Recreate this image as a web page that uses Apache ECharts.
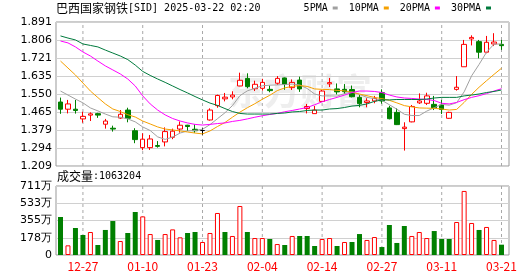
<!DOCTYPE html>
<html><head><meta charset="utf-8">
<script src="https://cdn.jsdelivr.net/npm/echarts@6/dist/echarts.min.js"></script>
<style>html,body{margin:0;padding:0;background:#fff}#c{width:530px;height:276px}</style>
</head><body><div id="c"></div>
<script>
const titleName = '巴西国家钢铁';
const titleInfo = '[SID] 2025-03-22 02:20';
const volumeTitle = '成交量';
const lastVolume = '1063204';
const watermarkText = '东方财富';

const dates = ['12-23','12-24','12-26','12-27','12-30','12-31','01-02','01-03','01-06','01-07','01-08','01-10','01-13','01-14','01-15','01-16','01-17','01-21','01-22','01-23','01-24','01-27','01-28','01-29','01-30','01-31','02-03','02-04','02-05','02-06','02-07','02-10','02-11','02-12','02-13','02-14','02-18','02-19','02-20','02-21','02-24','02-25','02-26','02-27','02-28','03-03','03-04','03-05','03-06','03-07','03-10','03-11','03-12','03-13','03-14','03-17','03-18','03-19','03-20','03-21'];
const axisDates = ['12-27','01-10','01-23','02-04','02-14','02-27','03-11','03-21'];

const opens  = [1.512,1.478,1.478,1.432,1.450,1.457,1.407,1.388,1.436,1.474,1.376,1.296,1.296,1.306,1.323,1.345,1.384,1.402,1.383,1.377,1.427,1.495,1.527,1.536,1.588,1.624,1.575,1.577,1.572,1.601,1.626,1.580,1.616,1.481,1.457,1.515,1.598,1.574,1.572,1.571,1.534,1.510,1.517,1.556,1.484,1.463,1.386,1.418,1.508,1.506,1.501,1.498,1.435,1.572,1.679,1.811,1.798,1.748,1.787,1.785];
const closes = [1.478,1.503,1.472,1.444,1.456,1.450,1.422,1.384,1.454,1.435,1.334,1.336,1.337,1.302,1.372,1.374,1.402,1.396,1.376,1.377,1.474,1.543,1.535,1.545,1.615,1.585,1.596,1.605,1.566,1.624,1.596,1.605,1.574,1.491,1.474,1.564,1.604,1.560,1.561,1.537,1.504,1.517,1.529,1.517,1.433,1.405,1.393,1.491,1.517,1.541,1.484,1.477,1.463,1.582,1.785,1.818,1.748,1.795,1.796,1.779];
const lows   = [1.456,1.458,1.457,1.414,1.422,1.437,1.386,1.372,1.432,1.416,1.317,1.284,1.285,1.296,1.302,1.336,1.367,1.375,1.366,1.356,1.424,1.485,1.515,1.525,1.587,1.577,1.564,1.566,1.558,1.593,1.570,1.569,1.560,1.458,1.457,1.512,1.583,1.548,1.550,1.534,1.487,1.487,1.506,1.504,1.430,1.403,1.282,1.416,1.503,1.498,1.474,1.455,1.433,1.566,1.679,1.780,1.719,1.743,1.777,1.759];
const highs  = [1.533,1.522,1.522,1.466,1.463,1.461,1.432,1.400,1.474,1.485,1.388,1.364,1.356,1.327,1.392,1.386,1.420,1.404,1.406,1.388,1.482,1.547,1.555,1.563,1.651,1.648,1.613,1.622,1.590,1.635,1.628,1.619,1.632,1.503,1.493,1.569,1.626,1.600,1.597,1.590,1.545,1.530,1.541,1.572,1.494,1.482,1.416,1.498,1.553,1.556,1.541,1.522,1.466,1.635,1.806,1.828,1.806,1.825,1.838,1.806];

// volume in 万 (10k shares)
const volumes = [391.6,99.6,278,206,237,103,258,350,144,227,443,398,216,155,216,264,182,227,237,134,227,433,237,196,505,237,175,175,165,113,103,196,196,196,93,165,175,93,134,134,216,155,185,82,309,124,299,196,237,175,247,165,165,340,660,330,258,289,155,106.32];
// 1 = up day (red hollow), 0 = down day (green)
const volumeUp = [0,1,0,0,1,0,0,0,1,0, 0,1,1,0,1,1,1,0,0,1, 1,1,0,1,1,0,1,1,0,1, 0,1,0,0,0,1,1,0,1,0, 0,1,1,0,0,0,0,1,1,1, 0,0,0,1,1,1,0,1,1,0];

const maNames = ['5PMA','10PMA','20PMA','30PMA'];
const ma5  = [1.564,1.545,1.526,1.508,1.484,1.470,1.455,1.442,1.440,1.432,1.418,1.394,1.377,1.347,1.335,1.346,1.365,1.375,1.377,1.383,1.405,1.433,1.461,1.495,1.542,1.565,1.577,1.589,1.592,1.593,1.595,1.597,1.593,1.576,1.550,1.541,1.541,1.540,1.552,1.560,1.548,1.534,1.528,1.520,1.499,1.478,1.454,1.448,1.448,1.469,1.485,1.501,1.497,1.509,1.560,1.636,1.690,1.748,1.786,1.787];
const ma10 = [1.706,1.673,1.640,1.602,1.564,1.533,1.503,1.479,1.467,1.452,1.441,1.422,1.408,1.394,1.384,1.380,1.375,1.370,1.365,1.361,1.375,1.396,1.415,1.440,1.464,1.485,1.504,1.525,1.544,1.566,1.579,1.586,1.590,1.586,1.574,1.572,1.571,1.567,1.565,1.558,1.550,1.542,1.534,1.528,1.520,1.508,1.495,1.489,1.484,1.483,1.482,1.479,1.474,1.477,1.510,1.548,1.582,1.613,1.643,1.672];
const ma20 = [1.801,1.792,1.773,1.749,1.730,1.706,1.683,1.664,1.645,1.621,1.588,1.541,1.503,1.474,1.451,1.434,1.422,1.413,1.406,1.403,1.406,1.410,1.413,1.420,1.425,1.432,1.440,1.447,1.453,1.458,1.466,1.472,1.479,1.486,1.499,1.513,1.524,1.534,1.545,1.557,1.564,1.564,1.562,1.557,1.545,1.536,1.531,1.529,1.526,1.524,1.519,1.506,1.503,1.510,1.523,1.534,1.542,1.552,1.564,1.575];
const ma30 = [1.825,1.815,1.806,1.787,1.780,1.773,1.758,1.744,1.730,1.713,1.687,1.657,1.638,1.621,1.605,1.588,1.571,1.555,1.538,1.522,1.507,1.496,1.481,1.467,1.458,1.455,1.455,1.455,1.455,1.458,1.460,1.465,1.467,1.472,1.474,1.474,1.479,1.481,1.486,1.493,1.496,1.503,1.515,1.522,1.522,1.524,1.524,1.524,1.524,1.526,1.531,1.534,1.534,1.534,1.541,1.545,1.550,1.557,1.562,1.569];
const maColors = ['#a0a0a0','#f5a000','#ff00ff','#007a3d'];

const priceMin = 1.209, priceMax = 1.891;
const priceTicks = ['1.209','1.294','1.379','1.465','1.550','1.635','1.721','1.806','1.891'];
const volumeMax = 711;
const volumeTicks = ['0','178万','355万','533万','711万'];

const labelSet = new Set(axisDates);
const candles = dates.map((d, i) => [opens[i], closes[i], lows[i], highs[i]]);
const volData = volumes.map((v, i) => ({
  value: v,
  itemStyle: volumeUp[i]
    ? { color: '#ffffff', borderColor: '#ff0000', borderWidth: 1 }
    : { color: '#008000', borderColor: '#008000', borderWidth: 0 }
}));
// vertical date guides: one separate dashed line series per labelled date
const guideSeries = (xi, yi, lo, hi) => axisDates.map(d => ({
  type: 'line', xAxisIndex: xi, yAxisIndex: yi, data: [[d, lo], [d, hi]],
  symbol: 'none', showSymbol: false, silent: true, z: 1,
  lineStyle: { width: 1, color: '#a8a8a8', type: [3, 3] }
}));

const frameColor = '#999999';
const gridLine = '#d0d0d0';
const cjk = 'Noto Sans CJK SC';
const mono = 'DejaVu Sans Mono';

const chart = echarts.init(document.getElementById('c'), null, { renderer: 'canvas', width: 530, height: 276 });
const option = {
  animation: false,
  backgroundColor: '#ffffff',
  title: {
    left: 56, top: 2, padding: 0,
    text: '{a|' + titleName + '}{b|' + titleInfo + '}',
    textStyle: { fontWeight: 'normal', rich: {
      a: { fontFamily: cjk, fontSize: 12, fontWeight: 'normal', color: '#000' },
      b: { fontFamily: mono, fontSize: 10, fontWeight: 'normal', color: '#000' }
    } }
  },
  legend: {
    right: 39, top: 3, padding: 0, align: 'right', icon: 'rect',
    itemWidth: 5, itemHeight: 3, itemGap: 11,
    textStyle: { fontFamily: mono, fontSize: 10, color: '#000' },
    data: maNames
  },
  graphic: [
    { type: 'text', left: 228, top: 73, z: 0, silent: true,
      style: { text: watermarkText, fontFamily: cjk, fontSize: 36, fontWeight: 'bold', fill: '#eeeeee' } },
    { type: 'text', left: 57, top: 170, silent: true,
      style: { text: '{a|' + volumeTitle + '}{b|:' + lastVolume + '}',
        rich: { a: { fontFamily: cjk, fontSize: 12, fill: '#000' }, b: { fontFamily: mono, fontSize: 10, fill: '#000' } } } }
  ],
  grid: [
    { left: 56, top: 22, width: 453, height: 144, show: true, borderColor: frameColor, borderWidth: 1, backgroundColor: 'transparent' },
    { left: 60.5, top: 22, width: 441, height: 144 },
    { left: 56, top: 186, width: 453, height: 69, show: true, borderColor: frameColor, borderWidth: 1, backgroundColor: 'transparent' },
    { left: 60.5, top: 186, width: 441, height: 69 }
  ],
  xAxis: [
    { gridIndex: 0, type: 'value', min: 0, max: 1, show: false },
    { gridIndex: 1, type: 'category', data: dates, boundaryGap: false,
      axisLine: { show: false }, axisTick: { show: false }, axisLabel: { show: false }, splitLine: { show: false } },
    { gridIndex: 2, type: 'value', min: 0, max: 1, show: false },
    { gridIndex: 3, type: 'category', data: dates, boundaryGap: false,
      axisLine: { show: false }, axisTick: { show: false },
      axisLabel: { show: true, interval: (i, v) => labelSet.has(v), color: '#ff0000', fontFamily: cjk, fontSize: 12, margin: 5 },
      splitLine: { show: false } }
  ],
  yAxis: [
    { gridIndex: 0, type: 'value', min: 0, max: 8, interval: 1,
      axisLine: { show: false }, axisTick: { show: false },
      axisLabel: { margin: 4, color: '#000', fontFamily: 'DejaVu Sans', fontSize: 11, showMinLabel: true, showMaxLabel: true,
        formatter: v => priceTicks[Math.round(v)] },
      splitLine: { show: true, lineStyle: { color: gridLine } } },
    { gridIndex: 1, type: 'value', min: priceMin, max: priceMax, show: false, splitLine: { show: false } },
    { gridIndex: 2, type: 'value', min: 0, max: 4, interval: 1,
      axisLine: { show: false }, axisTick: { show: false },
      axisLabel: { margin: 4, color: '#000', fontFamily: 'DejaVu Sans', fontSize: 11, showMinLabel: true, showMaxLabel: true,
        formatter: v => volumeTicks[Math.round(v)] },
      splitLine: { show: true, lineStyle: { color: gridLine } } },
    { gridIndex: 3, type: 'value', min: 0, max: volumeMax, show: false, splitLine: { show: false } }
  ],
  series: [
    ...guideSeries(1, 1, priceMin, priceMax),
    ...guideSeries(3, 3, 0, volumeMax),
    { type: 'candlestick', name: 'K', xAxisIndex: 1, yAxisIndex: 1, barWidth: 5, clip: false, data: candles, z: 3,
      itemStyle: { color: '#ffffff', color0: '#008000', borderColor: '#ff0000', borderColor0: '#008000', borderColorDoji: '#000000', borderWidth: 1 } },
    ...maNames.map((n, k) => ({
      type: 'line', name: n, xAxisIndex: 1, yAxisIndex: 1, data: [ma5, ma10, ma20, ma30][k],
      symbol: 'none', showSymbol: false, silent: true, z: 4,
      lineStyle: { width: 1, color: maColors[k] }, itemStyle: { color: maColors[k] }
    })),
    { type: 'bar', name: 'VOL', xAxisIndex: 3, yAxisIndex: 3, barWidth: 5, clip: false, data: volData, z: 3 }
  ]
};
chart.setOption(option);
</script>
</body></html>
